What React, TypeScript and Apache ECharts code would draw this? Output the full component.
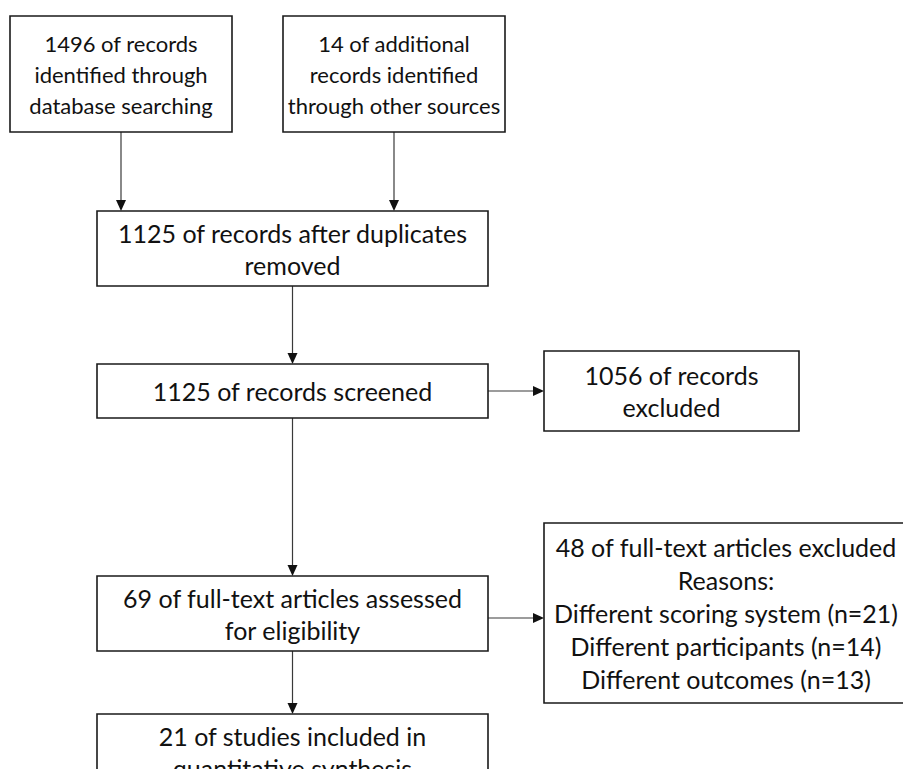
import React, { useEffect, useRef } from "react";
import * as echarts from "echarts";

// Flowchart content (PRISMA)
const identifiedDb = ["1496 of records", "identified through", "database searching"];
const identifiedOther = ["14 of additional", "records identified", "through other sources"];
const afterDuplicates = ["1125 of records after duplicates", "removed"];
const screened = ["1125 of records screened"];
const screenedExcluded = ["1056 of records", "excluded"];
const fullText = ["69 of full-text articles assessed", "for eligibility"];
const fullTextExcluded = [
  "48 of full-text articles excluded",
  "Reasons:",
  "Different scoring system (n=21)",
  "Different participants (n=14)",
  "Different outcomes (n=13)",
];
const included = ["21 of studies included in", "quantitative synthesis"];

type Box = { x: number; y: number; w: number; h: number; lines: string[]; fs: number; lh: number };

const boxes: Record<string, Box> = {
  db: { x: 10, y: 16, w: 222, h: 116, lines: identifiedDb, fs: 22, lh: 31 },
  other: { x: 283, y: 16, w: 222, h: 116, lines: identifiedOther, fs: 22, lh: 31 },
  dup: { x: 97, y: 211, w: 391, h: 75, lines: afterDuplicates, fs: 25, lh: 32 },
  scr: { x: 97, y: 364, w: 391, h: 54, lines: screened, fs: 25, lh: 32 },
  scrEx: { x: 544, y: 351, w: 255, h: 80, lines: screenedExcluded, fs: 25, lh: 32 },
  ft: { x: 97, y: 576, w: 391, h: 75, lines: fullText, fs: 25, lh: 32 },
  ftEx: { x: 544, y: 523, w: 364, h: 180, lines: fullTextExcluded, fs: 25, lh: 32.8 },
  inc: { x: 97, y: 714, w: 391, h: 75, lines: included, fs: 25, lh: 32 },
};

const FONT = "Lato";
const LINE_COLOR = "#3a3a3a";

function boxElems(b: Box) {
  const els: any[] = [
    {
      type: "rect",
      shape: { x: b.x, y: b.y, width: b.w, height: b.h },
      style: { fill: "#fff", stroke: "#1a1a1a", lineWidth: 1.6 },
    },
  ];
  const cx = b.x + b.w / 2;
  const cy = b.y + b.h / 2;
  const n = b.lines.length;
  b.lines.forEach((t, i) => {
    els.push({
      type: "text",
      x: cx,
      y: cy + (i - (n - 1) / 2) * b.lh,
      style: {
        text: t,
        fill: "#111",
        font: `${b.fs}px ${FONT}`,
        align: "center",
        verticalAlign: "middle",
      },
    });
  });
  return els;
}

function arrow(x1: number, y1: number, x2: number, y2: number) {
  const dx = x2 - x1;
  const dy = y2 - y1;
  const len = Math.sqrt(dx * dx + dy * dy);
  const ux = dx / len;
  const uy = dy / len;
  const hl = 11;
  const hw = 5;
  const bx = x2 - ux * hl;
  const by = y2 - uy * hl;
  return [
    {
      type: "line",
      shape: { x1, y1, x2: bx, y2: by },
      style: { stroke: LINE_COLOR, lineWidth: 1.2 },
    },
    {
      type: "polygon",
      shape: {
        points: [
          [x2, y2],
          [bx - uy * hw, by + ux * hw],
          [bx + uy * hw, by - ux * hw],
        ],
      },
      style: { fill: "#111" },
    },
  ];
}

export default function App() {
  const ref = useRef<HTMLDivElement>(null);
  useEffect(() => {
    document.body.style.margin = "0";
    if (!ref.current) return;
    const chart = echarts.init(ref.current, null, { renderer: "svg" });
    const b = boxes;
    const mid = (k: string) => b[k].x + b[k].w / 2;
    const elements: any[] = [
      ...arrow(121, b.db.y + b.db.h, 121, b.dup.y),
      ...arrow(394, b.other.y + b.other.h, 394, b.dup.y),
      ...arrow(mid("dup"), b.dup.y + b.dup.h, mid("dup"), b.scr.y),
      ...arrow(b.scr.x + b.scr.w, 391, b.scrEx.x, 391),
      ...arrow(mid("scr"), b.scr.y + b.scr.h, mid("scr"), b.ft.y),
      ...arrow(b.ft.x + b.ft.w, 618, b.ftEx.x, 618),
      ...arrow(mid("ft"), b.ft.y + b.ft.h, mid("ft"), b.inc.y),
      ...boxElems(b.db),
      ...boxElems(b.other),
      ...boxElems(b.dup),
      ...boxElems(b.scr),
      ...boxElems(b.scrEx),
      ...boxElems(b.ft),
      ...boxElems(b.ftEx),
      ...boxElems(b.inc),
    ];
    chart.setOption({
      animation: false,
      backgroundColor: "#fff",
      graphic: { elements },
    });
    return () => chart.dispose();
  }, []);
  return <div ref={ref} style={{ width: 903, height: 769 }} />;
}
